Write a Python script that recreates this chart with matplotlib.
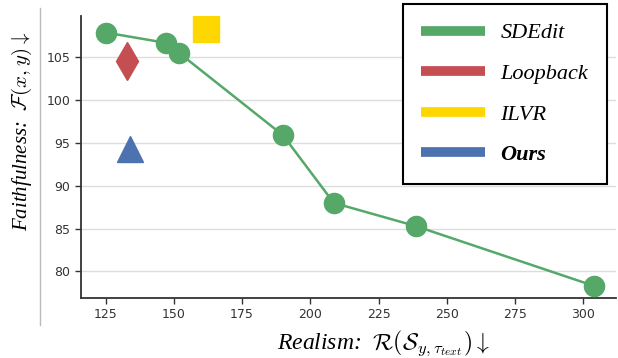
import matplotlib.pyplot as plt
from matplotlib.lines import Line2D

sdedit_x = [125, 147, 152, 190, 208.6, 238.6, 304]
sdedit_y = [107.9, 106.7, 105.5, 95.9, 88.0, 85.3, 78.3]
loopback_x = [133.0]
loopback_y = [104.6]
ilvr_x = [161.7]
ilvr_y = [108.3]
ours_x = [134.1]
ours_y = [94.3]

x_ticks = [125, 150, 175, 200, 225, 250, 275, 300]
y_ticks = [80, 85, 90, 95, 100, 105]

green = "#55A868"
red = "#C44E52"
yellow = "#FFD700"
blue = "#4C72B0"

plt.rcParams["mathtext.fontset"] = "cm"

fig = plt.figure(figsize=(6.18, 3.58), dpi=100)
ax = fig.add_axes([0.131, 0.1676, 0.866, 0.787])

ax.plot(sdedit_x, sdedit_y, "-o", color=green, linewidth=1.8, markersize=14.5, zorder=3)
ax.plot(loopback_x, loopback_y, "d", color=red, markersize=19.5, zorder=3)
ax.plot(ilvr_x, ilvr_y, "s", color=yellow, markersize=19, zorder=3)
ax.plot(ours_x, ours_y, "^", color=blue, markersize=19, zorder=3)

ax.set_xlim(116, 312)
ax.set_ylim(76.9, 109.8)
ax.set_xticks(x_ticks)
ax.set_yticks(y_ticks)
ax.tick_params(labelsize=9, colors="#333333", length=4, width=1)
ax.yaxis.grid(True, color="#dddddd", linewidth=1)
ax.set_axisbelow(True)
for side in ["top", "right"]:
    ax.spines[side].set_visible(False)
for side in ["left", "bottom"]:
    ax.spines[side].set_color("#333333")
    ax.spines[side].set_linewidth(1.3)

fig.text(0.621, 0.042, r"Realism:  $\mathcal{R}(\mathcal{S}_{y,\tau_{text}})\downarrow$",
         ha="center", va="center", fontsize=17, family="Liberation Serif", style="italic")
fig.text(0.036, 0.634, r"Faithfulness:  $\mathcal{F}(x,y)\downarrow$",
         ha="center", va="center", rotation=90, fontsize=15,
         family="Liberation Serif", style="italic")

fig.add_artist(Line2D([40 / 618, 40 / 618], [1 - 325 / 358, 1 - 8 / 358],
                      color="#bbbbbb", linewidth=1))

handles = [Line2D([], [], color=c, linewidth=7, solid_capstyle="butt")
           for c in [green, red, yellow, blue]]
labels = ["SDEdit", "Loopback", "ILVR", "Ours"]
leg = ax.legend(handles, labels, loc="upper right", bbox_to_anchor=(607 / 618, 1 - 4 / 358),
                bbox_transform=fig.transFigure, fancybox=False, framealpha=1,
                edgecolor="black", handlelength=2.85, handletextpad=0.7,
                labelspacing=0.9, borderpad=0.85, borderaxespad=0,
                prop={"family": "Liberation Serif", "style": "italic", "size": 16})
leg.get_frame().set_linewidth(1.5)
leg.get_texts()[3].set_fontweight("bold")

fig.savefig("out.png", dpi=100)
